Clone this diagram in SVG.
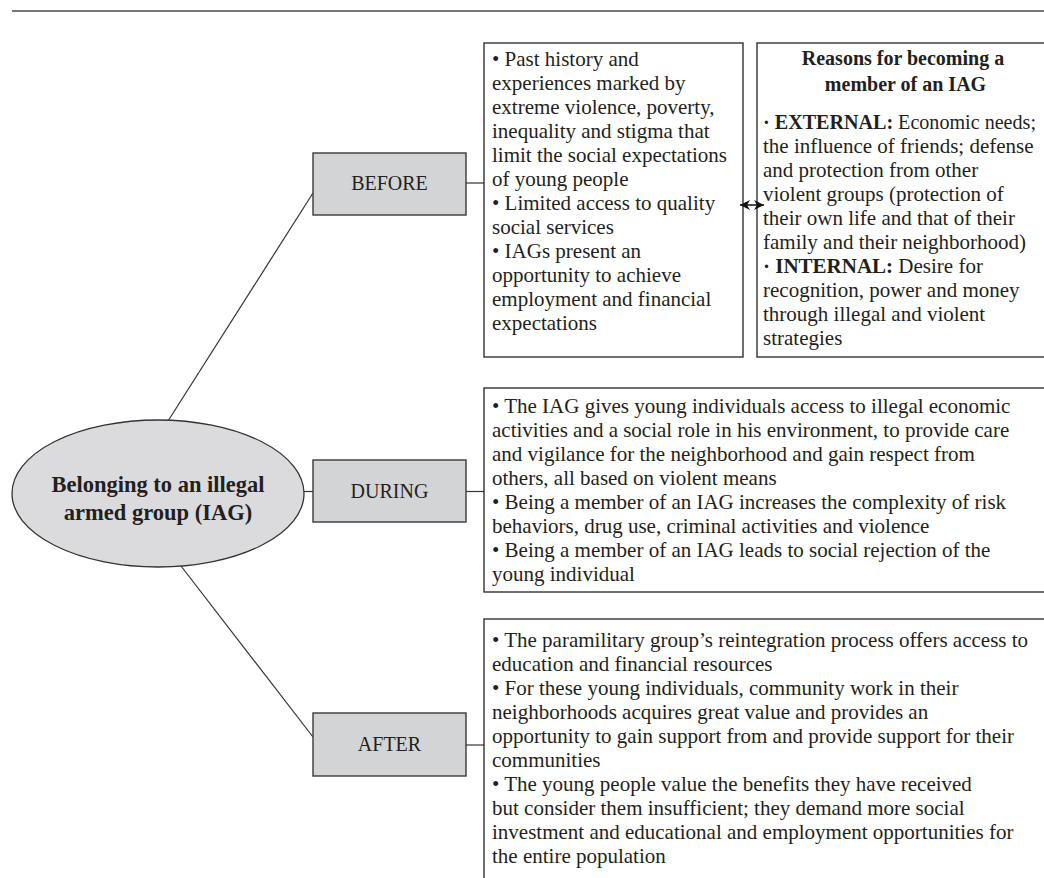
<svg xmlns="http://www.w3.org/2000/svg" width="1044" height="878" viewBox="0 0 1044 878">
<defs>
<style>
.t{font-family:"Liberation Serif","Times New Roman",serif;font-size:21px;fill:#231f20}
.b{font-weight:bold}
.lbl{font-family:"Liberation Serif","Times New Roman",serif;font-size:20px;fill:#231f20;text-anchor:middle}
.box{fill:#fff;stroke:#333;stroke-width:1.4}
.gbox{fill:#d3d4d6;stroke:#3a3a3a;stroke-width:1.4}
.ln{stroke:#333;stroke-width:1.2;fill:none}
</style>
<marker id="ah" viewBox="0 0 10 10" refX="10" refY="5" markerWidth="10" markerHeight="10" markerUnits="userSpaceOnUse" orient="auto-start-reverse" preserveAspectRatio="none">
<path d="M0,0 L10,5 L0,10 L3,5 z" fill="#111"/>
</marker>
</defs>
<rect width="1044" height="878" fill="#fff"/>
<line x1="12" y1="11" x2="1044" y2="11" stroke="#777" stroke-width="2"/>

<g id="connectors">
<line class="ln" x1="168" y1="421" x2="313" y2="193"/>
<line class="ln" x1="304" y1="491.5" x2="313" y2="491.5"/>
<line class="ln" x1="181" y1="566" x2="313" y2="737"/>
<line class="ln" x1="466" y1="183" x2="484" y2="183"/>
<line class="ln" x1="466" y1="491.5" x2="484" y2="491.5"/>
<line class="ln" x1="466" y1="745" x2="484" y2="745"/>
</g>

<g id="root">
<ellipse cx="158" cy="493.5" rx="146" ry="73.5" fill="#dbdbde" stroke="#333" stroke-width="1.3"/>
<text class="t b" text-anchor="middle" x="158" y="492" style="font-size:22.5px">Belonging to an illegal</text>
<text class="t b" text-anchor="middle" x="158" y="520" style="font-size:22.5px">armed group (IAG)</text>
</g>

<g id="before">
<rect class="gbox" x="313" y="153" width="153" height="62"/>
<text class="lbl" x="389.5" y="190">BEFORE</text>
</g>

<g id="during">
<rect class="gbox" x="313" y="460" width="153" height="62"/>
<text class="lbl" x="389.5" y="498">DURING</text>
</g>

<g id="after">
<rect class="gbox" x="313" y="713" width="153" height="63"/>
<text class="lbl" x="389.5" y="751">AFTER</text>
</g>

<g id="before-text">
<rect class="box" x="484" y="43" width="259" height="314"/>
<text class="t" x="492">
<tspan x="492" y="66">• Past history and</tspan>
<tspan x="492" y="90">experiences marked by</tspan>
<tspan x="492" y="114">extreme violence, poverty,</tspan>
<tspan x="492" y="138">inequality and stigma that</tspan>
<tspan x="492" y="162">limit the social expectations</tspan>
<tspan x="492" y="186">of young people</tspan>
<tspan x="492" y="210">• Limited access to quality</tspan>
<tspan x="492" y="234">social services</tspan>
<tspan x="492" y="258">• IAGs present an</tspan>
<tspan x="492" y="282">opportunity to achieve</tspan>
<tspan x="492" y="306">employment and financial</tspan>
<tspan x="492" y="330">expectations</tspan>
</text>
</g>

<g id="reasons">
<rect class="box" x="757" y="43" width="300" height="314"/>
<text class="t b" text-anchor="middle" style="font-size:20px">
<tspan x="905.5" y="65">Reasons for becoming a</tspan>
<tspan x="905.5" y="91">member of an IAG</tspan>
</text>
<text class="t" x="763" y="129" textLength="273" lengthAdjust="spacingAndGlyphs"><tspan class="b">· EXTERNAL:</tspan> Economic needs;</text>
<text class="t">
<tspan x="763" y="153">the influence of friends; defense</tspan>
<tspan x="763" y="177">and protection from other</tspan>
<tspan x="763" y="201">violent groups (protection of</tspan>
<tspan x="763" y="225">their own life and that of their</tspan>
<tspan x="763" y="249">family and their neighborhood)</tspan>
<tspan x="763" y="273"><tspan class="b">· INTERNAL:</tspan> Desire for</tspan>
<tspan x="763" y="297">recognition, power and money</tspan>
<tspan x="763" y="321">through illegal and violent</tspan>
<tspan x="763" y="345">strategies</tspan>
</text>
</g>

<g id="arrow-link">
<line x1="740" y1="205" x2="764" y2="205" stroke="#111" stroke-width="1.5" marker-start="url(#ah)" marker-end="url(#ah)"/>
</g>

<g id="during-text">
<rect class="box" x="484" y="388" width="580" height="204"/>
<text class="t">
<tspan x="492" y="413">• The IAG gives young individuals access to illegal economic</tspan>
<tspan x="492" y="437">activities and a social role in his environment, to provide care</tspan>
<tspan x="492" y="461">and vigilance for the neighborhood and gain respect from</tspan>
<tspan x="492" y="485">others, all based on violent means</tspan>
<tspan x="492" y="509">• Being a member of an IAG increases the complexity of risk</tspan>
<tspan x="492" y="533">behaviors, drug use, criminal activities and violence</tspan>
<tspan x="492" y="557">• Being a member of an IAG leads to social rejection of the</tspan>
<tspan x="492" y="581">young individual</tspan>
</text>
</g>

<g id="after-text">
<rect class="box" x="484" y="619" width="580" height="280"/>
<text class="t">
<tspan x="492" y="647">• The paramilitary group’s reintegration process offers access to</tspan>
<tspan x="492" y="671">education and financial resources</tspan>
<tspan x="492" y="695">• For these young individuals, community work in their</tspan>
<tspan x="492" y="719">neighborhoods acquires great value and provides an</tspan>
<tspan x="492" y="743">opportunity to gain support from and provide support for their</tspan>
<tspan x="492" y="767">communities</tspan>
<tspan x="492" y="791">• The young people value the benefits they have received</tspan>
<tspan x="492" y="815">but consider them insufficient; they demand more social</tspan>
<tspan x="492" y="839">investment and educational and employment opportunities for</tspan>
<tspan x="492" y="863">the entire population</tspan>
</text>
</g>
</svg>
